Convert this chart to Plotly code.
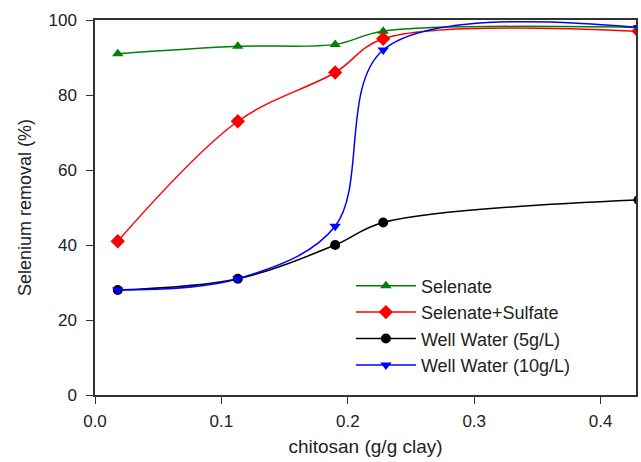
import plotly.graph_objects as go

chitosan = [0.018, 0.113, 0.19, 0.228, 0.43]
selenate = [91, 93, 93.5, 97, 98]
selenate_sulfate = [41, 73, 86, 95, 97]
well_5 = [28, 31, 40, 46, 52]
well_10 = [28, 31, 45, 92, 98]

series = [
    ("Selenate", selenate, "#008000", "triangle-up", 10),
    ("Selenate+Sulfate", selenate_sulfate, "#ff0000", "diamond", 11),
    ("Well Water (5g/L)", well_5, "#000000", "circle", 10),
    ("Well Water (10g/L)", well_10, "#0000ff", "triangle-down", 10),
]

fig = go.Figure()
for name, ys, color, sym, size in series:
    fig.add_trace(go.Scatter(
        x=chitosan, y=ys, name=name, mode="lines+markers",
        line=dict(color=color, width=1.5, shape="spline", smoothing=1.0),
        marker=dict(symbol=sym, size=size, color=color),
    ))

font = "Liberation Sans, Arial, sans-serif"
fig.update_layout(
    width=641, height=462,
    margin=dict(l=95, r=3, t=20, b=67),
    paper_bgcolor="white", plot_bgcolor="white",
    font=dict(family=font, size=17, color="#222"),
    showlegend=True,
    legend=dict(x=0.473, y=0.34, xanchor="left", yanchor="top",
                bgcolor="rgba(0,0,0,0)", font=dict(size=18), tracegroupgap=0,
                itemwidth=60),
    xaxis=dict(range=[0, 0.428], tickvals=[0, 0.1, 0.2, 0.3, 0.4],
               ticktext=["0.0", "0.1", "0.2", "0.3", "0.4"],
               showgrid=False, zeroline=False, showline=True, mirror=True,
               linecolor="#333", linewidth=1.5, ticks="outside", ticklen=7,
               tickcolor="#333", ticklabelstandoff=3,
               title=dict(text="chitosan (g/g clay)", font=dict(size=19), standoff=10)),
    yaxis=dict(range=[0, 100], tickvals=[0, 20, 40, 60, 80, 100],
               showgrid=False, zeroline=False, showline=True, mirror=True,
               linecolor="#333", linewidth=1.5, ticks="outside", ticklen=7,
               tickcolor="#333", ticklabelstandoff=6,
               title=dict(text="Selenium removal (%)", font=dict(size=18), standoff=12)),
)

fig.write_html("out.html")
